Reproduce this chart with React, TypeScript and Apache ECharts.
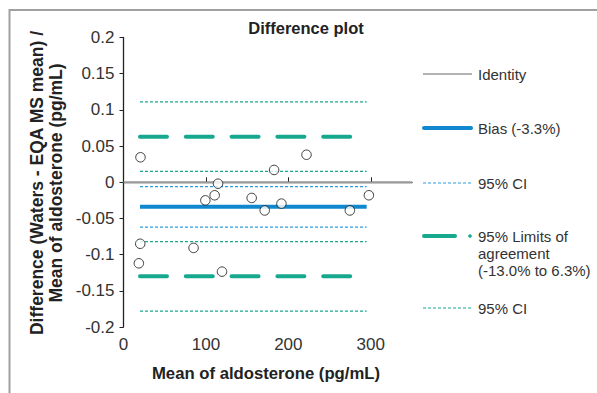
import React, { useEffect, useRef } from "react";
import * as echarts from "echarts";

// Data
const meanAldosterone = [20.6, 114.7, 222, 182.7, 110.6, 99.3, 155.5, 171.3, 191.6, 274.6, 297.7, 20.3, 18.6, 85, 119.5];
const relDifference = [0.0345, -0.002, 0.038, 0.017, -0.018, -0.025, -0.0217, -0.039, -0.0295, -0.039, -0.018, -0.085, -0.112, -0.0907, -0.1235];

const lineStartX = 20;
const lineEndX = 295;
const bias = -0.034;
const biasCI = [-0.006, -0.062];
const limitsOfAgreement = [0.063, -0.13];
const limitsCI = [0.111, 0.015, -0.082, -0.178];
const xTicks = [0, 100, 200, 300];

const FONT = "'Liberation Sans', Arial, sans-serif";
const TEAL = "#17a98e";
const BLUE = "#0f88cf";
const BLUE_CI = "#2a9de0";

function hLine(y: number, name: string, style: any) {
  return {
    type: "line",
    name,
    data: [[lineStartX, y], [lineEndX, y]],
    symbol: "none",
    silent: true,
    lineStyle: style,
    z: 2,
  };
}

export default function App() {
  const ref = useRef<HTMLDivElement>(null);
  useEffect(() => {
    if (!ref.current) return;
    const chart = echarts.init(ref.current, null, { renderer: "svg" });
    const series: any[] = [
      {
        type: "line",
        name: "Identity",
        data: [[0, 0], [350, 0]],
        symbol: "none",
        silent: true,
        lineStyle: { color: "#9a9a9a", width: 1.5 },
        z: 1,
      },
      hLine(bias, "Bias", { color: BLUE, width: 4 }),
      ...biasCI.map((v) => hLine(v, "Bias CI", { color: BLUE_CI, width: 1.2, type: [3, 2] })),
      ...limitsOfAgreement.map((v) =>
        hLine(v, "LoA", { color: TEAL, width: 4, type: [27, 18.8], cap: "round" })
      ),
      ...limitsCI.map((v) => hLine(v, "LoA CI", { color: TEAL, width: 1.2, type: [3, 2] })),
      {
        type: "scatter",
        name: "Points",
        data: meanAldosterone.map((x, i) => [x, relDifference[i]]),
        symbol: "circle",
        symbolSize: 9.5,
        itemStyle: { color: "#ffffff", borderColor: "#111", borderWidth: 1 },
        z: 5,
      },
    ];

    const legendX1 = 423;
    const legendX2 = 472;
    const textX = 478;
    const legendText = (y: number, text: string) => ({
      type: "text",
      x: textX,
      y,
      style: { text, font: `15px ${FONT}`, fill: "#333", verticalAlign: "middle", lineHeight: 17 },
    });

    chart.setOption({
      animation: false,
      grid: { left: 123.5, right: 185, top: 37.5, bottom: 66 },
      xAxis: {
        type: "value",
        min: 0,
        max: 350,
        interval: 100,
        axisLine: { lineStyle: { color: "#222", width: 1.3 } },
        axisTick: { inside: true, length: 5, customValues: xTicks, lineStyle: { color: "#222" } },
        axisLabel: { customValues: xTicks, color: "#333", fontSize: 17, fontFamily: FONT, margin: 9 },
        splitLine: { show: false },
      },
      yAxis: {
        type: "value",
        min: -0.2,
        max: 0.2,
        interval: 0.05,
        axisLine: { show: true, lineStyle: { color: "#222", width: 1.3 } },
        axisTick: { show: true, inside: false, length: 4, lineStyle: { color: "#222" } },
        axisLabel: { color: "#333", fontSize: 17, fontFamily: FONT, margin: 9 },
        splitLine: { show: false },
      },
      series,
      graphic: [
        {
          type: "polyline",
          shape: { points: [[9.5, 393], [9.5, 10], [597, 10]] },
          style: { stroke: "#a0a0a0", lineWidth: 2, fill: "none" },
        },
        {
          type: "text",
          x: 306,
          y: 28,
          style: { text: "Difference plot", font: `bold 16.5px ${FONT}`, fill: "#222", align: "center", verticalAlign: "middle" },
        },
        {
          type: "text",
          x: 266,
          y: 373,
          style: { text: "Mean of aldosterone (pg/mL)", font: `bold 16.7px ${FONT}`, fill: "#222", align: "center", verticalAlign: "middle" },
        },
        {
          type: "text",
          x: 46.5,
          y: 183,
          rotation: Math.PI / 2,
          style: {
            text: "Difference (Waters - EQA MS mean) /\nMean of aldosterone (pg/mL)",
            font: `bold 17.5px ${FONT}`,
            fill: "#222",
            align: "center",
            verticalAlign: "middle",
            lineHeight: 19,
          },
        },
        // legend
        { type: "line", shape: { x1: legendX1, y1: 74, x2: legendX2, y2: 74 }, style: { stroke: "#9a9a9a", lineWidth: 1.5 } },
        legendText(74, "Identity"),
        { type: "line", shape: { x1: legendX1 + 1, y1: 128, x2: legendX2 - 1, y2: 128 }, style: { stroke: BLUE, lineWidth: 4, lineCap: "round" } },
        legendText(128, "Bias (-3.3%)"),
        { type: "line", shape: { x1: legendX1, y1: 183, x2: legendX2, y2: 183 }, style: { stroke: BLUE_CI, lineWidth: 1.2, lineDash: [3, 2] } },
        legendText(183, "95% CI"),
        { type: "line", shape: { x1: legendX1 + 1, y1: 236, x2: 455, y2: 236 }, style: { stroke: TEAL, lineWidth: 4, lineCap: "round" } },
        { type: "circle", shape: { cx: 470, cy: 236, r: 1.8 }, style: { fill: TEAL } },
        {
          type: "text",
          x: textX,
          y: 227.5,
          style: {
            text: "95% Limits of\nagreement\n(-13.0% to 6.3%)",
            font: `15px ${FONT}`,
            fill: "#333",
            verticalAlign: "top",
            lineHeight: 17,
          },
        },
        { type: "line", shape: { x1: legendX1, y1: 308, x2: legendX2, y2: 308 }, style: { stroke: TEAL, lineWidth: 1.2, lineDash: [3, 2] } },
        legendText(308, "95% CI"),
      ],
    });
    return () => chart.dispose();
  }, []);
  return (
    <div
      ref={ref}
      style={{ position: "absolute", left: 0, top: 0, width: 597, height: 393, background: "#fff" }}
    />
  );
}
